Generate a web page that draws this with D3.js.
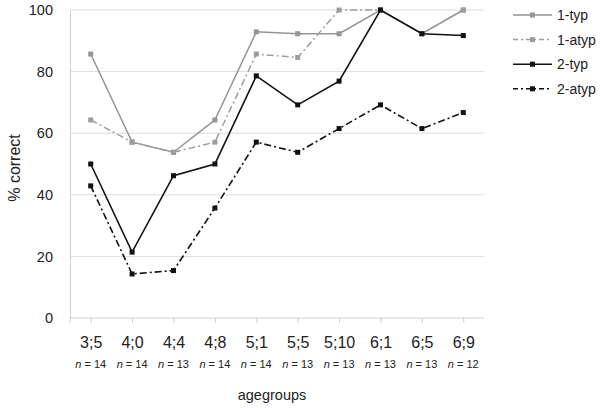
<!DOCTYPE html>
<html><head><meta charset="utf-8">
<script src="https://cdn.jsdelivr.net/npm/d3@7/dist/d3.min.js"></script>
<style>body{margin:0;background:#fff;} text{font-family:"Liberation Sans",Arial,sans-serif;}</style>
</head><body>
<svg id="c" width="600" height="408"></svg>
<script>
const categories = ["3;5","4;0","4;4","4;8","5;1","5;5","5;10","6;1","6;5","6;9"];
const nLabels = ["14","14","13","14","14","13","13","13","13","12"];
const seriesNames = ["1-typ","1-atyp","2-typ","2-atyp"];
const typ1  = [85.7,57.1,53.8,64.3,92.9,92.3,92.3,100,92.3,100];
const atyp1 = [64.3,57.1,53.8,57.1,85.7,84.6,100,100,92.3,100];
const typ2  = [50,21.4,46.2,50,78.6,69.2,76.9,100,92.3,91.7];
const atyp2 = [42.9,14.3,15.4,35.7,57.1,53.8,61.5,69.2,61.5,66.7];
const yTicks = [0,20,40,60,80,100];

const series = [
  {name:seriesNames[0], values:typ1, color:"#959595", dash:null, w:1.5},
  {name:seriesNames[1], values:atyp1, color:"#9d9d9d", dash:"7,3,2,3", w:1.5},
  {name:seriesNames[2], values:typ2, color:"#111", dash:null, w:1.6},
  {name:seriesNames[3], values:atyp2, color:"#111", dash:"7,3,2,3", w:1.6}
];

const svg = d3.select("#c");
const L = 70, R = 484, T = 10, B = 318;
const x = d3.scalePoint().domain(categories).range([L, R]).padding(0.5);
const y = d3.scaleLinear().domain([0,100]).range([B, T]);

// gridlines
svg.append("g").selectAll("line").data(yTicks.filter(d=>d>0)).join("line")
  .attr("x1", L).attr("x2", R).attr("y1", d=>y(d)).attr("y2", d=>y(d))
  .attr("stroke", "#dcdcdc").attr("stroke-width", 1);

// y axis
const ya = svg.append("g").attr("transform", `translate(${L},0)`)
  .call(d3.axisLeft(y).tickValues(yTicks).tickSize(0).tickPadding(17));
ya.select(".domain").attr("stroke", "#cfcfcf");
ya.selectAll("text").attr("font-size", 14.5).attr("fill", "#222");

// x axis
const xa = svg.append("g").attr("transform", `translate(0,${B})`)
  .call(d3.axisBottom(x).tickSize(5).tickPadding(14));
xa.select(".domain").attr("stroke", "#cfcfcf").attr("d", `M${L},5V0H${R}`);
xa.selectAll("line").attr("stroke", "#cfcfcf");
xa.selectAll("text").attr("font-size", 16).attr("fill", "#222");

// n labels
const nl = svg.append("g").selectAll("text").data(categories).join("text")
  .attr("x", d=>x(d)).attr("y", 368).attr("text-anchor","middle")
  .attr("font-size", 11).attr("fill", "#222");
nl.append("tspan").attr("font-style","italic").text("n");
nl.append("tspan").text((d,i)=>" = " + nLabels[i]);

// titles
svg.append("text").attr("x", 272).attr("y", 400).attr("text-anchor","middle")
  .attr("font-size", 14.5).attr("fill","#222").text("agegroups");
svg.append("text").attr("transform", "translate(20,168) rotate(-90)").attr("text-anchor","middle")
  .attr("font-size", 16).attr("fill","#222").text("% correct");

// lines
const line = d3.line().x((d,i)=>x(categories[i])).y(d=>y(d));
series.forEach(s => {
  svg.append("path").attr("d", line(s.values)).attr("fill","none")
    .attr("stroke", s.color).attr("stroke-width", s.w)
    .attr("stroke-dasharray", s.dash);
  svg.append("g").selectAll("rect").data(s.values).join("rect")
    .attr("x", (d,i)=>x(categories[i])-2.5).attr("y", d=>y(d)-2.5)
    .attr("width", 5).attr("height", 5).attr("fill", s.color);
});

// legend
const lg = svg.append("g");
series.forEach((s,i) => {
  const yy = 15 + i*24.6;
  lg.append("line").attr("x1", 513).attr("x2", 552).attr("y1", yy).attr("y2", yy)
    .attr("stroke", s.color).attr("stroke-width", s.w).attr("stroke-dasharray", s.dash ? "5,3,2,3" : null);
  lg.append("rect").attr("x", 530).attr("y", yy-2.5).attr("width",5).attr("height",5).attr("fill", s.color);
  lg.append("text").attr("x", 557).attr("y", yy+5).attr("font-size", 14).attr("fill","#222").text(s.name);
});
</script>
</body></html>
